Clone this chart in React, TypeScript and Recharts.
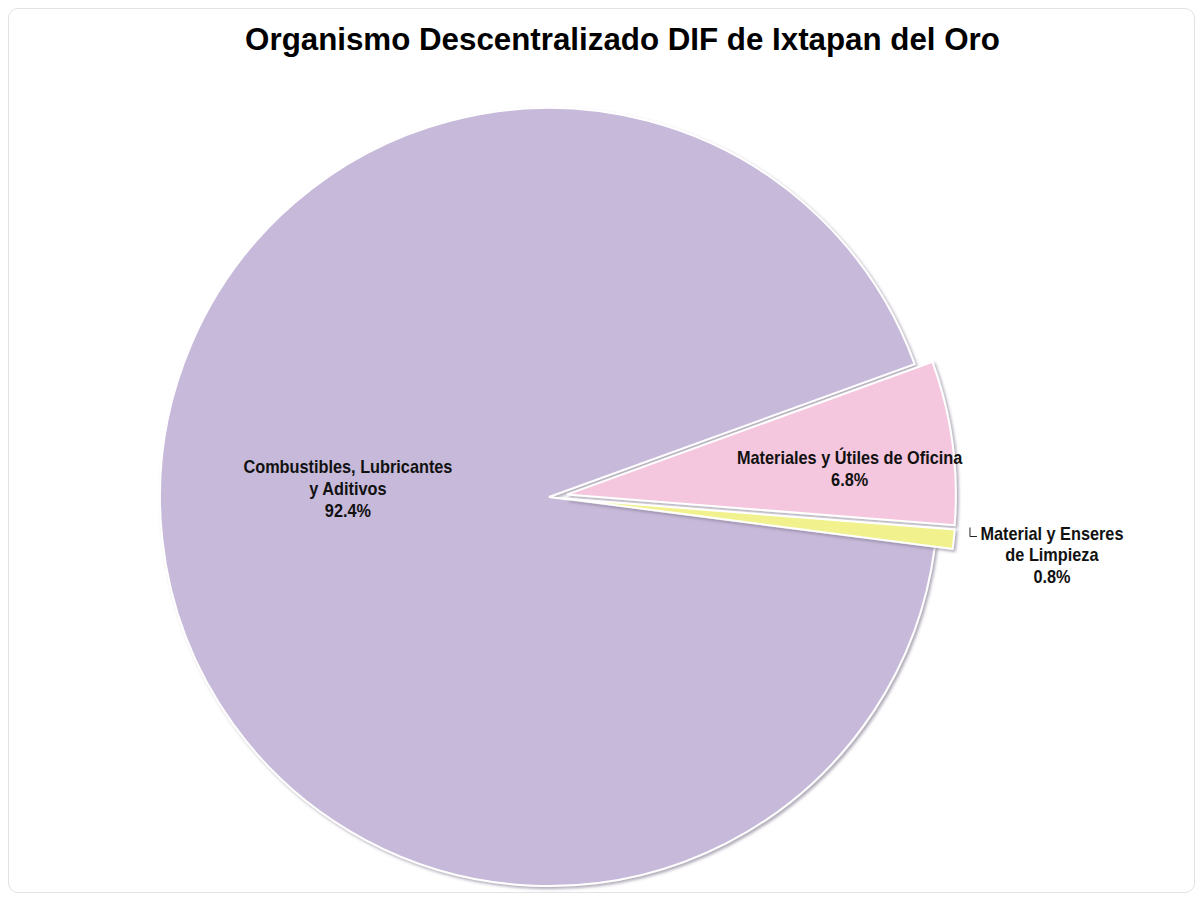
import React from 'react';
import { PieChart, Pie, Cell, Sector } from 'recharts';

// slice names (split into label lines) and shares in percent
const names = ['Combustibles, Lubricantes y Aditivos', 'Materiales y Útiles de Oficina', 'Material y Enseres de Limpieza'];
const labelLines = [
  ['Combustibles, Lubricantes', 'y Aditivos'],
  ['Materiales y Útiles de Oficina'],
  ['Material y Enseres', 'de Limpieza'],
];
const shares = [92.4, 6.8, 0.8];
const colors = ['#c7b9d9', '#f5c7de', '#f1f28e'];

const data = names.map((name, i) => ({ name, value: shares[i] }));

const RADIAN = Math.PI / 180;
// how far each slice is pulled out of the pie
const EXPLODE = [0, 18, 18];
// label placement as fraction of radius, plus vertical nudge
const LABEL_R = [0.52, 0.78, 1.3];
const LABEL_DY = [-30, 13, 6];

function renderShape(props: any) {
  const { cx, cy, midAngle, index } = props;
  const off = EXPLODE[index] || 0;
  const dx = off * Math.cos(-midAngle * RADIAN);
  const dy = off * Math.sin(-midAngle * RADIAN);
  return (
    <g>
      {index === 0 && (
        <defs>
          <filter id="sliceShadow" x="-10%" y="-10%" width="120%" height="120%">
            <feDropShadow dx="2" dy="2" stdDeviation="1.5" floodColor="#6f6580" floodOpacity="0.55" />
          </filter>
        </defs>
      )}
      <Sector
        {...props}
        cx={cx + dx}
        cy={cy + dy}
        stroke="#ffffff"
        strokeWidth={2}
        filter="url(#sliceShadow)"
      />
    </g>
  );
}

function renderLabel(props: any) {
  const { cx, cy, midAngle, outerRadius, index } = props;
  const r = outerRadius * LABEL_R[index];
  const x = cx + r * Math.cos(-midAngle * RADIAN);
  const y = cy + r * Math.sin(-midAngle * RADIAN) + LABEL_DY[index];
  const lines = [...labelLines[index], `${shares[index].toFixed(1)}%`];
  const lh = 22;
  const top = y - ((lines.length - 1) * lh) / 2;
  return (
    <g>
      {index === 2 && (
        <polyline
          points={`${x - 82},${top - 6} ${x - 82},${top + 3} ${x - 75},${top + 3}`}
          fill="none"
          stroke="#222"
          strokeWidth={1}
        />
      )}
      <text
        x={x}
        y={top}
        textAnchor="middle"
        transform={`translate(${x},0) scale(0.905,1) translate(${-x},0)`}
        fontFamily="'Liberation Sans', Arial, sans-serif"
        fontWeight="bold"
        fontSize={18}
        fill="#111"
      >
        {lines.map((l, i) => (
          <tspan key={i} x={x} dy={i === 0 ? 6 : lh}>
            {l}
          </tspan>
        ))}
      </text>
    </g>
  );
}

export default function App() {
  return (
    <div
      style={{
        position: 'relative',
        width: 1185,
        height: 883,
        border: '1px solid #e2e2e2',
        borderRadius: 10,
        background: '#fff',
      }}
    >
      <div
        style={{
          position: 'absolute',
          top: 15,
          left: 0,
          width: 1227,
          textAlign: 'center',
          fontFamily: "'Liberation Sans', Arial, sans-serif",
          fontWeight: 'bold',
          fontSize: 31.3,
          lineHeight: 1,
          color: '#000',
        }}
      >
        Organismo Descentralizado DIF de Ixtapan del Oro
      </div>
      <PieChart width={1185} height={883}>
        <Pie
          data={data}
          dataKey="value"
          nameKey="name"
          cx={535}
          cy={483}
          outerRadius={389}
          startAngle={-7.4}
          endAngle={-367.4}
          shape={renderShape}
          label={renderLabel}
          labelLine={false}
          isAnimationActive={false}
        >
          {data.map((d, i) => (
            <Cell key={d.name} fill={colors[i]} />
          ))}
        </Pie>
      </PieChart>
    </div>
  );
}
